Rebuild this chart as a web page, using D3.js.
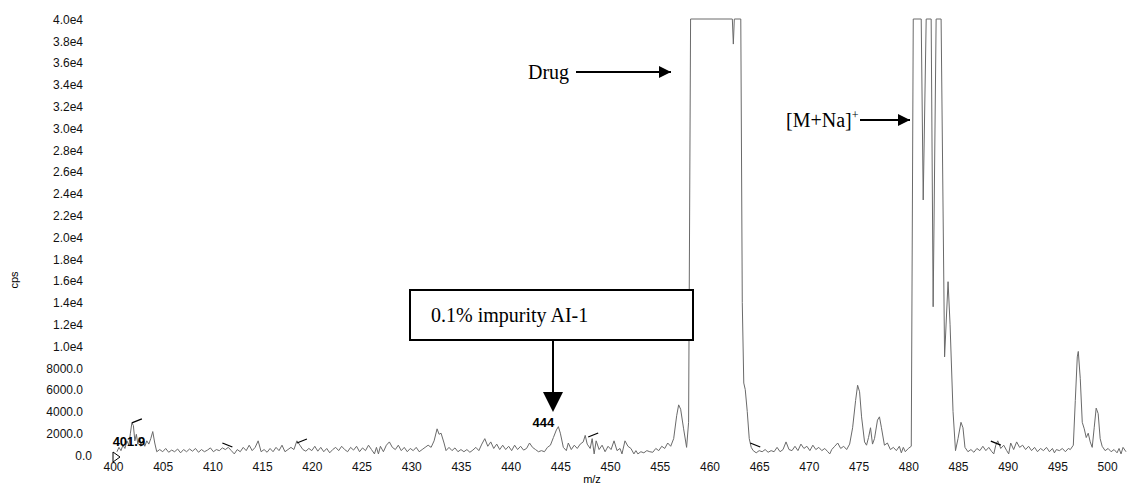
<!DOCTYPE html>
<html>
<head>
<meta charset="utf-8">
<script src="https://cdn.jsdelivr.net/npm/d3@7/dist/d3.min.js"></script>
<style>
    body { margin: 0; background: #fff; }
    .tick text { font-family: "Liberation Sans", Arial, sans-serif; font-size: 12px; fill: #111; }
    .note { font-family: "Liberation Serif", "Times New Roman", serif; font-size: 20px; fill: #000; }
    .lab { font-family: "Liberation Sans", Arial, sans-serif; font-size: 13px; font-weight: bold; fill: #000; }
</style>
</head>
<body>
<svg id="chart" width="1127" height="485"></svg>
<script>
// m/z, cps  (values above 4.0e4 are off scale and drawn at the top)
const spectrum = [
    [400.4,300],[400.6,700],[400.8,400],[401.0,900],[401.2,600],[401.4,1300],[401.6,900],[401.75,2000],
    [401.9,2950],[402.05,2700],[402.2,1300],[402.35,1900],[402.5,1000],[402.65,1600],[402.8,800],[403.0,1300],
    [403.2,800],[403.4,1300],[403.6,1000],[403.8,1500],[404.0,2150],[404.2,1100],[404.4,300],[404.7,500],
    [405.0,300],[405.3,600],[405.6,250],[405.9,450],[406.2,300],[406.5,550],[406.8,200],[407.1,500],
    [407.4,300],[407.7,550],[408.0,350],[408.3,600],[408.6,250],[408.9,500],[409.2,300],[409.5,450],
    [409.8,650],[410.1,300],[410.4,500],[410.7,400],[411.0,650],[411.3,500],[411.6,700],[411.9,400],
    [412.2,100],[412.5,500],[412.8,300],[413.1,700],[413.4,400],[413.7,900],[414.0,400],[414.3,700],
    [414.6,1300],[414.9,300],[415.2,500],[415.5,250],[415.8,600],[416.1,300],[416.4,700],[416.7,400],
    [417.0,900],[417.3,300],[417.6,500],[417.9,700],[418.2,500],[418.5,1300],[418.8,900],[419.1,500],
    [419.4,350],[419.7,600],[420.0,400],[420.3,800],[420.6,350],[420.9,700],[421.2,300],[421.5,600],
    [421.8,200],[422.1,500],[422.4,700],[422.7,400],[423.0,800],[423.3,500],[423.6,300],[423.9,700],
    [424.2,450],[424.5,800],[424.8,300],[425.1,650],[425.4,400],[425.7,900],[426.0,500],[426.3,100],
    [426.5,700],[426.7,100],[426.9,800],[427.2,300],[427.5,900],[427.8,1200],[428.1,700],[428.4,500],
    [428.7,900],[429.0,400],[429.3,700],[429.6,300],[429.9,600],[430.2,400],[430.5,700],[430.8,300],
    [431.1,500],[431.4,700],[431.7,900],[432.0,700],[432.3,1300],[432.6,2400],[432.8,1900],[433.0,2000],
    [433.3,1100],[433.5,400],[433.8,700],[434.1,400],[434.4,650],[434.7,300],[435.0,500],[435.3,300],
    [435.6,500],[435.9,250],[436.2,450],[436.5,700],[436.8,400],[437.1,1000],[437.4,1500],[437.7,800],
    [438.0,1200],[438.3,600],[438.6,1000],[438.9,500],[439.2,900],[439.5,500],[439.8,800],[440.1,400],
    [440.4,900],[440.7,500],[441.0,800],[441.3,450],[441.6,600],[441.9,1100],[442.2,700],[442.5,500],
    [442.8,300],[443.1,400],[443.4,300],[443.7,700],[444.0,900],[444.3,1600],[444.6,2300],[444.8,2600],
    [445.0,2000],[445.3,700],[445.6,400],[445.8,1100],[446.1,500],[446.4,900],[446.7,600],[447.0,1000],
    [447.3,1200],[447.5,1800],[447.7,1000],[448.0,600],[448.2,1500],[448.4,100],[448.6,1300],[448.9,500],
    [449.2,900],[449.5,300],[449.8,800],[450.1,500],[450.4,1300],[450.7,400],[451.0,600],[451.2,100],
    [451.5,1300],[451.8,800],[452.1,600],[452.4,100],[452.6,400],[452.8,100],[453.1,300],[453.4,200],
    [453.7,400],[454.0,300],[454.3,250],[454.6,600],[454.9,400],[455.2,800],[455.5,600],[455.8,1100],
    [456.1,800],[456.4,1500],[456.7,3600],[456.9,4600],[457.1,4200],[457.4,2400],[457.7,700],[457.9,3000],
    [458.1,40000],[462.3,40000],[462.4,37700],[462.5,40000],[463.15,40000],[463.3,14000],[463.45,6600],
    [463.6,6000],[463.8,4000],[464.0,1500],[464.2,700],[464.4,400],[464.7,200],[465.0,400],
    [465.3,300],[465.6,500],[465.9,250],[466.2,400],[466.5,300],[466.8,700],[467.1,300],[467.4,500],
    [467.7,1200],[468.0,500],[468.3,400],[468.6,800],[468.9,400],[469.2,1000],[469.5,600],[469.8,800],
    [470.1,400],[470.4,900],[470.7,500],[471.0,700],[471.3,400],[471.6,600],[471.9,300],[472.1,100],
    [472.3,500],[472.6,800],[472.9,1100],[473.2,600],[473.5,800],[473.8,500],[474.1,1000],[474.4,2500],
    [474.7,5000],[474.9,6400],[475.1,5800],[475.3,3500],[475.6,1200],[475.8,900],[476.0,1600],[476.2,2500],
    [476.4,1000],[476.6,1500],[476.9,3200],[477.1,3500],[477.3,2500],[477.6,900],[477.9,1100],[478.2,500],
    [478.5,700],[478.8,400],[479.1,800],[479.3,200],[479.5,700],[479.7,300],[480.0,600],[480.3,800],
    [480.5,40000],[481.3,40000],[481.5,23400],[481.8,40000],[482.3,40000],[482.5,13600],[482.8,40000],
    [483.3,40000],[483.65,9000],[484.0,15900],[484.2,12000],[484.5,4000],[484.75,400],[485.0,1500],
    [485.3,3000],[485.5,2500],[485.7,700],[486.0,300],[486.3,500],[486.6,250],[486.9,600],[487.2,400],
    [487.5,800],[487.8,400],[488.1,700],[488.4,300],[488.6,100],[488.8,900],[489.0,1300],[489.3,600],
    [489.6,900],[489.9,400],[490.1,100],[490.3,1100],[490.6,500],[490.9,1200],[491.2,700],[491.5,900],
    [491.8,500],[492.1,800],[492.4,400],[492.7,700],[493.0,300],[493.3,600],[493.6,400],[493.9,700],
    [494.2,300],[494.5,600],[494.7,200],[494.9,500],[495.2,400],[495.5,600],[495.8,300],[496.1,600],
    [496.3,500],[496.6,900],[496.8,5000],[497.0,9000],[497.1,9500],[497.3,7000],[497.5,3000],[497.7,2400],
    [497.9,1600],[498.1,2000],[498.3,1200],[498.5,700],[498.7,2500],[498.9,4300],[499.1,3800],[499.3,1500],
    [499.5,800],[499.8,400],[500.1,600],[500.4,300],[500.7,500],[501.0,200],[501.2,600],[501.4,100],
    [501.6,700],[501.9,300]
]

const xTicks = d3.range(400, 501, 5)
const yTicks = d3.range(0, 40001, 2000)

// peak picker marks: m/z, cps, slant
const markMz = [401.9, 411.0, 418.5, 447.8, 464.1, 488.3]
const markCps = [2950, 1100, 1100, 1650, 1100, 1280]
const markDir = [1, -1, 1, 1, -1, -1]

const peakLabels = [{ text: '401.9', mz: 401.6, cps: 850 }, { text: '444', mz: 443.3, cps: 2600 }]

const svg = d3.select('#chart')

const x = d3.scaleLinear().domain([400, 502]).range([113, 1127])
const y = d3.scaleLinear().domain([0, 40000]).range([455, 19])

const fmt = v => (v >= 10000 ? (v / 10000).toFixed(1) + 'e4' : v.toFixed(1))

// Оси без линий, только подписи
const gx = svg.append('g')
    .attr('transform', 'translate(0,462)')
    .call(d3.axisBottom(x).tickValues(xTicks).tickSize(0).tickPadding(0))
gx.select('.domain').remove()
gx.selectAll('text').attr('dy', '0.71em')

const gy = svg.append('g')
    .attr('transform', 'translate(83,0)')
    .call(d3.axisLeft(y).tickValues(yTicks).tickSize(0).tickPadding(0).tickFormat(fmt))
gy.select('.domain').remove()
gy.selectAll('text').attr('dy', '0.35em').attr('dx', d => (d === 0 ? 9 : 0))

svg.append('text')
    .attr('transform', 'translate(18,280) rotate(-90)')
    .attr('text-anchor', 'middle')
    .style('font-family', '"Liberation Sans", Arial, sans-serif')
    .style('font-size', '11px')
    .text('cps')

svg.append('text')
    .attr('x', 592)
    .attr('y', 483)
    .attr('text-anchor', 'middle')
    .style('font-family', '"Liberation Sans", Arial, sans-serif')
    .style('font-size', '11px')
    .text('m/z')

// Спектр
const line = d3.line().x(d => x(d[0])).y(d => y(d[1]))
svg.append('path')
    .datum(spectrum)
    .attr('fill', 'none')
    .attr('stroke', '#6a6a6a')
    .attr('stroke-width', 1)
    .attr('d', line)

// Отметки пиков
svg.selectAll('line.mark')
    .data(markMz)
    .enter()
    .append('line')
    .attr('class', 'mark')
    .attr('x1', d => x(d))
    .attr('y1', (d, i) => y(markCps[i]))
    .attr('x2', d => x(d) + 10)
    .attr('y2', (d, i) => y(markCps[i]) - 4 * markDir[i])
    .attr('stroke', '#000')
    .attr('stroke-width', 1.3)

// Маркер начала
svg.append('path')
    .attr('d', `M${x(400)},${y(0) - 3}L${x(400) + 7},${y(0) + 2}L${x(400)},${y(0) + 7}Z`)
    .attr('fill', 'none')
    .attr('stroke', '#000')
    .attr('stroke-width', 1)

svg.selectAll('text.lab')
    .data(peakLabels)
    .enter()
    .append('text')
    .attr('class', 'lab')
    .attr('x', d => x(d.mz))
    .attr('y', d => y(d.cps))
    .attr('text-anchor', 'middle')
    .text(d => d.text)

// Аннотации
const defs = svg.append('defs')
defs.append('marker')
    .attr('id', 'head')
    .attr('viewBox', '0 0 10 10')
    .attr('refX', 10)
    .attr('refY', 5)
    .attr('markerUnits', 'userSpaceOnUse')
    .attr('markerWidth', 16)
    .attr('markerHeight', 12)
    .attr('orient', 'auto')
    .append('path')
    .attr('d', 'M0,0L10,5L0,10Z')
    .attr('fill', '#000')

svg.append('text').attr('class', 'note').attr('x', 528).attr('y', 79).text('Drug')
svg.append('line')
    .attr('x1', 576).attr('y1', 72).attr('x2', 671).attr('y2', 72)
    .attr('stroke', '#000').attr('stroke-width', 2)
    .attr('marker-end', 'url(#head)')

const mna = svg.append('text').attr('class', 'note').attr('x', 786).attr('y', 127)
mna.append('tspan').text('[M+Na]')
mna.append('tspan').attr('dy', -8).style('font-size', '12px').text('+')
svg.append('line')
    .attr('x1', 860).attr('y1', 120).attr('x2', 910).attr('y2', 120)
    .attr('stroke', '#000').attr('stroke-width', 2)
    .attr('marker-end', 'url(#head)')

svg.append('rect')
    .attr('x', 410).attr('y', 290).attr('width', 283).attr('height', 50)
    .attr('fill', '#fff').attr('stroke', '#000').attr('stroke-width', 2)
svg.append('text').attr('class', 'note').attr('x', 431).attr('y', 322).text('0.1% impurity AI-1')

svg.append('line')
    .attr('x1', 553).attr('y1', 341).attr('x2', 553).attr('y2', 393)
    .attr('stroke', '#000').attr('stroke-width', 2)
svg.append('path')
    .attr('d', 'M543,392L563,392L553,412Z')
    .attr('fill', '#000')
</script>
</body>
</html>
